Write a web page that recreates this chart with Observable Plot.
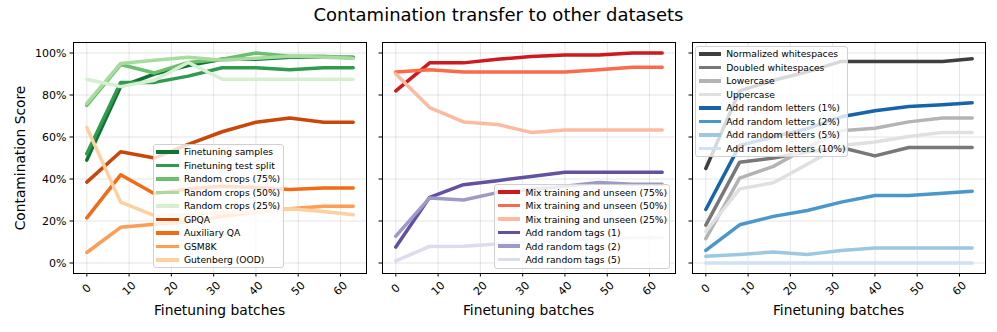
<!DOCTYPE html>
<html><head><meta charset="utf-8">
<script src="https://cdn.jsdelivr.net/npm/d3@7"></script>
<script src="https://cdn.jsdelivr.net/npm/@observablehq/plot@0.6"></script>
<style>
body{margin:0;background:#fff;font-family:"DejaVu Sans",sans-serif;color:#000;}
#wrap{position:relative;width:997px;height:332px;overflow:hidden;background:#fff;}
#wrap svg{position:absolute;top:0;}
.title{position:absolute;left:0;width:997px;top:4px;text-align:center;font-size:18px;line-height:22px;white-space:nowrap;}
.xlabel{position:absolute;top:310px;font-size:13.8px;transform:translate(-50%,-50%);white-space:nowrap;}
.ylabel{position:absolute;left:20px;top:157.5px;font-size:13.8px;transform:translate(-50%,-50%) rotate(-90deg);white-space:nowrap;}
.legend{position:absolute;background:rgba(255,255,255,0.8);border:1px solid #d0d0d0;border-radius:3px;box-sizing:border-box;font-size:9.2px;}
.row{display:flex;align-items:center;height:13.5px;white-space:nowrap;}
.sw{width:22.7px;height:3.5px;margin-left:2.5px;margin-right:5px;flex:none;}
</style>
</head><body>
<div id="wrap"></div>
<script>
// ---- data ----
const batches = [0, 8, 16, 24, 32, 40, 48, 56, 63];
const xTicks = [0, 10, 20, 30, 40, 50, 60];
const yTicks = [0, 0.2, 0.4, 0.6, 0.8, 1.0];
const yTickLabels = ["0%", "20%", "40%", "60%", "80%", "100%"];
const titleText = "Contamination transfer to other datasets";
const xLabelText = "Finetuning batches";
const yLabelText = "Contamination Score";

// panel 1
const panel1Names = ["Finetuning samples", "Finetuning test split", "Random crops (75%)", "Random crops (50%)", "Random crops (25%)", "GPQA", "Auxiliary QA", "GSM8K", "Gutenberg (OOD)"];
const panel1Colors = ["#0e7434", "#2f9a50", "#6cbf6c", "#a8dba0", "#d7efd1", "#c9470a", "#f26c16", "#fd9e54", "#fdd0a2"];
const finetuningSamples = [0.49, 0.84, 0.90, 0.94, 0.97, 0.97, 0.98, 0.98, 0.98];
const finetuningTestSplit = [0.52, 0.86, 0.86, 0.89, 0.93, 0.93, 0.92, 0.93, 0.93];
const randomCrops75 = [0.75, 0.945, 0.905, 0.955, 0.97, 1.00, 0.985, 0.985, 0.975];
const randomCrops50 = [0.76, 0.95, 0.965, 0.98, 0.965, 0.975, 0.985, 0.98, 0.975];
const randomCrops25 = [0.875, 0.84, 0.87, 0.955, 0.875, 0.875, 0.875, 0.875, 0.875];
const gpqa = [0.385, 0.53, 0.50, 0.565, 0.625, 0.67, 0.69, 0.67, 0.67];
const auxiliaryQA = [0.215, 0.42, 0.33, 0.353, 0.365, 0.36, 0.35, 0.357, 0.357];
const gsm8k = [0.05, 0.17, 0.184, 0.195, 0.223, 0.242, 0.258, 0.27, 0.27];
const gutenberg = [0.645, 0.29, 0.226, 0.23, 0.24, 0.242, 0.258, 0.245, 0.23];

// panel 2
const panel2Names = ["Mix training and unseen (75%)", "Mix training and unseen (50%)", "Mix training and unseen (25%)", "Add random tags (1)", "Add random tags (2)", "Add random tags (5)"];
const panel2Colors = ["#cc1a1f", "#fb6a4a", "#fcbba1", "#6450a0", "#9e9ac8", "#dcdcec"];
const mix75 = [0.82, 0.953, 0.953, 0.97, 0.983, 0.99, 0.99, 1.0, 1.0];
const mix50 = [0.91, 0.92, 0.91, 0.91, 0.91, 0.91, 0.92, 0.932, 0.932];
const mix25 = [0.90, 0.74, 0.672, 0.66, 0.622, 0.633, 0.633, 0.633, 0.633];
const tags1 = [0.076, 0.313, 0.373, 0.392, 0.412, 0.432, 0.432, 0.432, 0.432];
const tags2 = [0.128, 0.31, 0.30, 0.335, 0.35, 0.365, 0.383, 0.375, 0.375];
const tags5 = [0.01, 0.079, 0.08, 0.09, 0.10, 0.11, 0.115, 0.12, 0.12];

// panel 3
const panel3Names = ["Normalized whitespaces", "Doubled whitespaces", "Lowercase", "Uppercase", "Add random letters (1%)", "Add random letters (2%)", "Add random letters (5%)", "Add random letters (10%)"];
const panel3Colors = ["#3f3f3f", "#787878", "#b4b4b4", "#e0e0e0", "#1764ab", "#4a98c9", "#9cc8e2", "#cfe1f2"];
const normalizedWs = [0.45, 0.82, 0.87, 0.91, 0.96, 0.96, 0.96, 0.96, 0.973];
const doubledWs = [0.18, 0.48, 0.50, 0.53, 0.55, 0.51, 0.55, 0.55, 0.55];
const lowercase = [0.116, 0.404, 0.46, 0.55, 0.63, 0.642, 0.672, 0.69, 0.69];
const uppercase = [0.15, 0.353, 0.382, 0.47, 0.56, 0.576, 0.602, 0.622, 0.622];
const letters1 = [0.255, 0.56, 0.60, 0.64, 0.696, 0.725, 0.745, 0.753, 0.763];
const letters2 = [0.06, 0.182, 0.222, 0.25, 0.29, 0.321, 0.321, 0.332, 0.342];
const letters5 = [0.032, 0.041, 0.052, 0.041, 0.06, 0.071, 0.071, 0.071, 0.071];
const letters10 = [0, 0, 0, 0, 0, 0, 0, 0, 0];

// ---- build ----
const panels = [
  {names: panel1Names, colors: panel1Colors, series: [finetuningSamples, finetuningTestSplit, randomCrops75, randomCrops50, randomCrops25, gpqa, auxiliaryQA, gsm8k, gutenberg], showY: true,
   legend: {left: 152.7, top: 144, width: 131.6, height: 124.3}},
  {names: panel2Names, colors: panel2Colors, series: [mix75, mix50, mix25, tags1, tags2, tags5], showY: false,
   legend: {left: 494.3, top: 184.3, width: 175.7, height: 85}},
  {names: panel3Names, colors: panel3Colors, series: [normalizedWs, doubledWs, lowercase, uppercase, letters1, letters2, letters5, letters10], showY: false,
   legend: {left: 695, top: 46, width: 153.3, height: 110.7}}
];
const plotLefts = [73, 382, 692];
const plotW = 293, mL = 60, mR = 12;
const wrap = document.getElementById("wrap");

const t = document.createElement("div");
t.className = "title"; t.textContent = titleText; wrap.appendChild(t);

panels.forEach((p, k) => {
  const lineMarks = p.series.map((vals, i) =>
    Plot.line(batches.map((b, j) => ({batch: b, value: vals[j]})),
      {x: "batch", y: "value", stroke: p.colors[i], strokeWidth: 3.5}));
  const svg = Plot.plot({
    width: mL + plotW + mR, height: 332,
    marginLeft: mL, marginRight: mR, marginTop: 42, marginBottom: 59,
    x: {domain: [-3.15, 66.15]},
    y: {domain: [-0.05, 1.05]},
    style: {fontFamily: "DejaVu Sans, sans-serif", fontSize: "11px", background: "none", overflow: "visible"},
    marks: [
      Plot.gridX(xTicks, {stroke: "#000", strokeOpacity: 0.1}),
      Plot.gridY(yTicks, {stroke: "#000", strokeOpacity: 0.1}),
      ...lineMarks,
      Plot.frame({stroke: "#000", strokeWidth: 1}),
      Plot.axisY(yTicks, {tickSize: 3.5, tickPadding: 3.5, label: null, fontSize: 11,
        tickFormat: p.showY ? (d => yTickLabels[yTicks.indexOf(d)]) : (() => "")}),
      Plot.axisX(xTicks, {tickSize: 3.5, label: null, tickFormat: () => ""}),
      Plot.text(xTicks, {x: d => d, frameAnchor: "bottom", dy: 15, rotate: -45, text: d => String(d),
        textAnchor: "middle", lineAnchor: "middle", fontSize: 11})
    ]
  });
  svg.style.left = (plotLefts[k] - mL) + "px";
  wrap.appendChild(svg);

  const xl = document.createElement("div");
  xl.className = "xlabel"; xl.textContent = xLabelText;
  xl.style.left = (plotLefts[k] + plotW / 2) + "px";
  wrap.appendChild(xl);
});

const yl = document.createElement("div");
yl.className = "ylabel"; yl.textContent = yLabelText; wrap.appendChild(yl);

panels.forEach(p => {
  const lg = document.createElement("div");
  lg.className = "legend";
  Object.assign(lg.style, {left: p.legend.left + "px", top: p.legend.top + "px", width: p.legend.width + "px", height: p.legend.height + "px"});
  p.names.forEach((n, i) => {
    const r = document.createElement("div"); r.className = "row";
    const s = document.createElement("span"); s.className = "sw"; s.style.background = p.colors[i];
    const tx = document.createElement("span"); tx.textContent = n;
    r.appendChild(s); r.appendChild(tx); lg.appendChild(r);
  });
  wrap.appendChild(lg);
});
</script>
</body></html>
